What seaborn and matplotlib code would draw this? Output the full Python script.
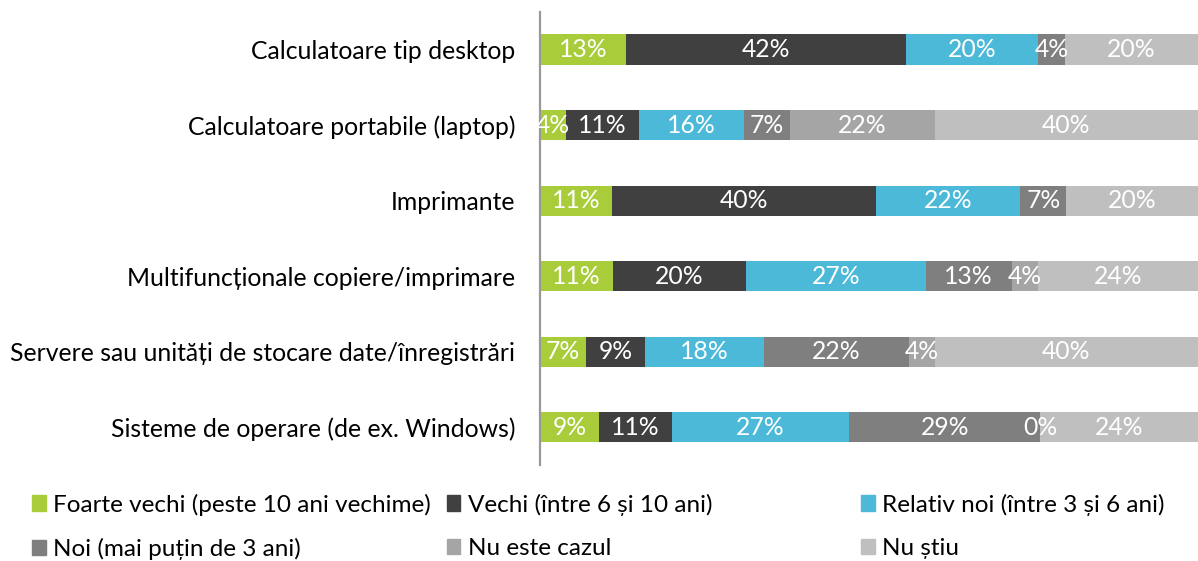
import numpy as np
import matplotlib.pyplot as plt
import seaborn as sns
from matplotlib.patches import Patch

categories = [
    "Calculatoare tip desktop",
    "Calculatoare portabile (laptop)",
    "Imprimante",
    "Multifuncționale copiere/imprimare",
    "Servere sau unități de stocare date/înregistrări",
    "Sisteme de operare (de ex. Windows)",
]
series = [
    "Foarte vechi (peste 10 ani vechime)",
    "Vechi (între 6 și 10 ani)",
    "Relativ noi (între 3 și 6 ani)",
    "Noi (mai puțin de 3 ani)",
    "Nu este cazul",
    "Nu știu",
]
foarte_vechi = [13, 4, 11, 11, 7, 9]
vechi = [42, 11, 40, 20, 9, 11]
relativ_noi = [20, 16, 22, 27, 18, 27]
noi = [4, 7, 7, 13, 22, 29]
nu_este_cazul = [np.nan, 22, np.nan, 4, 4, 0]
nu_stiu = [20, 40, 20, 24, 40, 24]

colors = ["#a9cd3a", "#404040", "#4bb9d7", "#7f7f7f", "#a5a5a5", "#bfbfbf"]

values = np.array([foarte_vechi, vechi, relativ_noi, noi, nu_este_cazul, nu_stiu], dtype=float)
filled = np.nan_to_num(values)
# 100% stacked: scale every row to its total
shares = filled / filled.sum(axis=0) * 100
cum = np.cumsum(shares, axis=0)

fs = 17.8
plt.rcParams["font.family"] = ["Lato", "DejaVu Sans"]
fig, ax = plt.subplots(figsize=(11.98, 5.61), dpi=100)
fig.subplots_adjust(left=0.4508, right=1.0, bottom=0.171, top=0.979)

# draw the cumulative bars from the back to the front
for i in range(len(series) - 1, -1, -1):
    sns.barplot(x=cum[i], y=categories, color=colors[i], width=0.4,
                saturation=1, orient="h", ax=ax)

for i in range(len(series)):
    for j in range(len(categories)):
        if np.isnan(values[i, j]):
            continue
        start = cum[i, j] - shares[i, j]
        ax.text(start + shares[i, j] / 2, j, f"{values[i, j]:.0f}%",
                ha="center", va="center", color="white", fontsize=fs)

ax.set_xlim(0, 100)
ax.set_ylim(5.5, -0.5)
ax.set_xlabel("")
ax.set_ylabel("")
ax.set_xticks([])
ax.tick_params(axis="y", length=0, pad=18, labelsize=fs)
for side in ["top", "right", "bottom"]:
    ax.spines[side].set_visible(False)
ax.spines["left"].set_color("#999999")
ax.spines["left"].set_linewidth(1.6)

# legend in three columns like the original layout
col_x = [0.027, 0.373, 0.719]
for k in range(3):
    handles = [Patch(color=colors[k]), Patch(color=colors[k + 3])]
    labels = [series[k], series[k + 3]]
    fig.legend(handles, labels, loc="upper left", bbox_to_anchor=(col_x[k], 0.12),
               frameon=False, fontsize=fs - 0.3, handlelength=0.55, handleheight=0.6,
               handletextpad=0.3, labelspacing=0.92, borderaxespad=0,
               borderpad=0)

fig.savefig("out.png", dpi=100)
